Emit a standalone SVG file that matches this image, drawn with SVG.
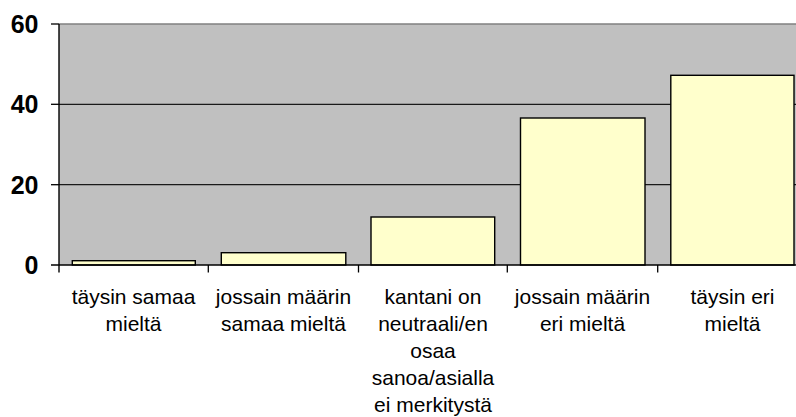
<svg xmlns="http://www.w3.org/2000/svg" width="796" height="417" viewBox="0 0 796 417">
<style>
.bar{fill:#FFFFCC;stroke:#000;stroke-width:1.4}
.grid{stroke:#1a1a1a;stroke-width:1.3}
.axis{stroke:#000;stroke-width:1.4}
.tick{stroke:#000;stroke-width:1.3}
.ylab{font-family:"Liberation Sans",Arial,sans-serif;font-weight:bold;font-size:25px;text-anchor:end;fill:#000}
.xlab{font-family:"Liberation Sans",Arial,sans-serif;font-size:21px;text-anchor:middle;fill:#000}
</style>
<rect width="796" height="417" fill="#fff"/>
<g id="plot">
<rect x="59" y="24" width="737" height="241" fill="#C0C0C0"/>
<line x1="59" y1="24" x2="796" y2="24" stroke="#808080" stroke-width="1.4"/>
<line class="grid" x1="59" y1="104.3" x2="796" y2="104.3"/>
<line class="grid" x1="59" y1="184.7" x2="796" y2="184.7"/>
</g>
<g id="bars">
<rect id="bar1" class="bar" x="72.3" y="260.7" width="123" height="4.3"/>
<rect id="bar2" class="bar" x="221.3" y="252.7" width="124.5" height="12.3"/>
<rect id="bar3" class="bar" x="371" y="217" width="123.7" height="48"/>
<rect id="bar4" class="bar" x="520.5" y="118" width="124.5" height="147"/>
<rect id="bar5" class="bar" x="670.8" y="75.3" width="123.2" height="189.7"/>
</g>
<g id="axes">
<line class="axis" x1="59" y1="24" x2="59" y2="272.5"/>
<line class="axis" x1="51" y1="265" x2="796" y2="265"/>
<line class="tick" x1="51" y1="24" x2="59" y2="24"/>
<line class="tick" x1="51" y1="104.3" x2="59" y2="104.3"/>
<line class="tick" x1="51" y1="184.7" x2="59" y2="184.7"/>
<line class="tick" x1="208.3" y1="265" x2="208.3" y2="272.5"/>
<line class="tick" x1="358.5" y1="265" x2="358.5" y2="272.5"/>
<line class="tick" x1="507.3" y1="265" x2="507.3" y2="272.5"/>
<line class="tick" x1="657.7" y1="265" x2="657.7" y2="272.5"/>
</g>
<g id="y-labels">
<text class="ylab" x="38.5" y="33">60</text>
<text class="ylab" x="38.5" y="113.3">40</text>
<text class="ylab" x="38.5" y="193.7">20</text>
<text class="ylab" x="38.5" y="274">0</text>
</g>
<g id="x-labels">
<text class="xlab" x="133.5" y="304"><tspan x="133.5">täysin samaa</tspan><tspan x="133.5" dy="26.5">mieltä</tspan></text>
<text class="xlab" x="283.5" y="304"><tspan x="283.5">jossain määrin</tspan><tspan x="283.5" dy="26.5">samaa mieltä</tspan></text>
<text class="xlab" x="433" y="304"><tspan x="433">kantani on</tspan><tspan x="433" dy="26.9">neutraali/en</tspan><tspan x="433" dy="26.9">osaa</tspan><tspan x="433" dy="26.9">sanoa/asialla</tspan><tspan x="433" dy="26.9">ei merkitystä</tspan></text>
<text class="xlab" x="582.5" y="304"><tspan x="582.5">jossain määrin</tspan><tspan x="582.5" dy="26.5">eri mieltä</tspan></text>
<text class="xlab" x="732.5" y="304"><tspan x="732.5">täysin eri</tspan><tspan x="732.5" dy="26.5">mieltä</tspan></text>
</g>
</svg>
